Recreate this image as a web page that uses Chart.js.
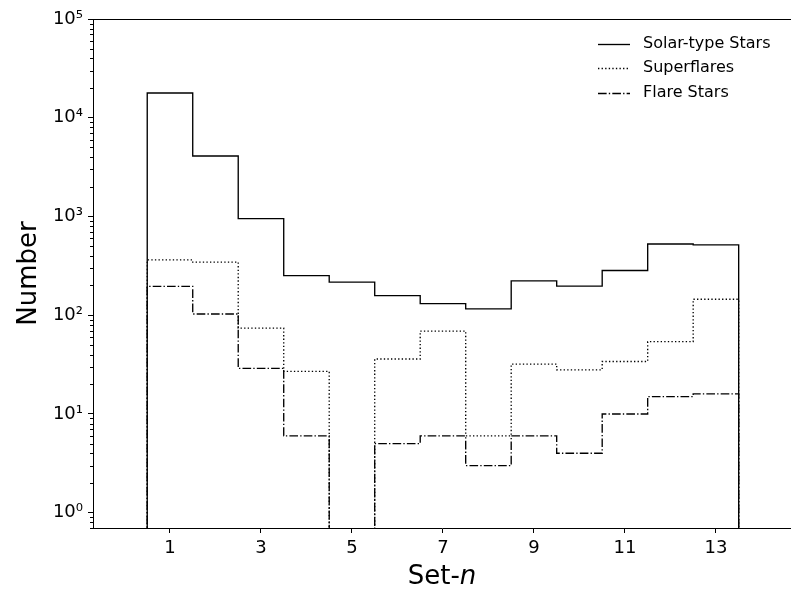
<!DOCTYPE html>
<html>
<head>
<meta charset="utf-8">
<script src="https://cdn.jsdelivr.net/npm/chart.js@4.4.1/dist/chart.umd.min.js"></script>
<style>
html,body{margin:0;padding:0;background:#fff;}
#wrap{width:791px;height:592px;position:relative;}
</style>
</head>
<body>
<div id="wrap"><canvas id="c"></canvas></div>
<script>
// ---- data ----
const categories = [1, 2, 3, 4, 5, 6, 7, 8, 9, 10, 11, 12, 13];
const solarStars = [17800, 4100, 950, 252, 216, 158, 131, 116, 223, 197, 284, 527, 515];
const superflares = [363, 345, 74, 27, 0, 36, 69, 6, 32, 28, 34, 54, 145];
const flareStars = [196, 103, 29, 6, 0, 5, 6, 3, 6, 4, 10, 15, 16];
const seriesNames = ['Solar-type Stars', 'Superflares', 'Flare Stars'];
const xTickValues = [1, 3, 5, 7, 9, 11, 13];
const yTickValues = [1, 10, 100, 1000, 10000, 100000];
const yTickLabels = ['10\u2070', '10\u00B9', '10\u00B2', '10\u00B3', '10\u2074', '10\u2075'];

const FLOOR = 0.01; // zero counts fall below the log axis
function stepPoints(vals) {
  const pts = [];
  const first = categories[0] - 0.5;
  pts.push({x: first, y: FLOOR});
  vals.forEach((v, i) => {
    const c = categories[i];
    const y = v > 0 ? v : FLOOR;
    pts.push({x: c - 0.5, y: y});
    pts.push({x: c + 0.5, y: y});
  });
  pts.push({x: categories[categories.length - 1] + 0.5, y: FLOOR});
  return pts;
}

const LW = 1.35;
const styles = [
  {dash: []},
  {dash: [1 * LW, 1.65 * LW]},
  {dash: [6.4 * LW, 1.6 * LW, 1 * LW, 1.6 * LW]}
];
const allSeries = [solarStars, superflares, flareStars];

Chart.defaults.font.family = "'DejaVu Sans', sans-serif";
Chart.defaults.color = '#000';

const framePlugin = {
  id: 'frame',
  afterDraw(chart) {
    const ctx = chart.ctx;
    const a = chart.chartArea;
    const ys = chart.scales.y;
    ctx.save();
    ctx.strokeStyle = '#000';
    ctx.lineWidth = 1;
    ctx.beginPath();
    ctx.moveTo(a.left, a.top + 0.5);
    ctx.lineTo(a.right, a.top + 0.5);
    ctx.stroke();
    for (let k = -1; k <= 5; k++) {
      for (let m = 2; m <= 9; m++) {
        const v = m * Math.pow(10, k);
        if (v < ys.min || v > ys.max) continue;
        const py = Math.round(ys.getPixelForValue(v)) + 0.5;
        ctx.beginPath();
        ctx.moveTo(a.left - 3, py);
        ctx.lineTo(a.left, py);
        ctx.stroke();
      }
    }
    ctx.fillStyle = '#000';
    ctx.textBaseline = 'middle';
    const f1 = "26px 'DejaVu Sans'";
    const f2 = "italic 26px 'DejaVu Sans'";
    ctx.font = f1;
    const w1 = ctx.measureText('Set-').width;
    ctx.font = f2;
    const w2 = ctx.measureText('n').width;
    const cx = (a.left + a.right) / 2;
    const sx = cx - (w1 + w2) / 2;
    ctx.textAlign = 'left';
    ctx.font = f1;
    ctx.fillText('Set-', sx, 577);
    ctx.font = f2;
    ctx.fillText('n', sx + w1, 577);
    ctx.save();
    ctx.translate(29, (a.top + a.bottom) / 2);
    ctx.rotate(-Math.PI / 2);
    ctx.textAlign = 'center';
    ctx.font = f1;
    ctx.fillText('Number', 0, 0);
    ctx.restore();
    ctx.font = "16px 'DejaVu Sans'";
    ctx.textAlign = 'left';
    const rows = [44, 68, 93];
    seriesNames.forEach((name, i) => {
      ctx.setLineDash(styles[i].dash);
      ctx.lineWidth = LW;
      ctx.beginPath();
      ctx.moveTo(598, rows[i] + 0.5);
      ctx.lineTo(630, rows[i] + 0.5);
      ctx.stroke();
      ctx.setLineDash([]);
      ctx.fillText(name, 643, rows[i]);
    });
    ctx.restore();
  }
};

new Chart(document.getElementById('c'), {
  type: 'line',
  data: {
    datasets: allSeries.map((s, i) => ({
      label: seriesNames[i],
      data: stepPoints(s),
      borderColor: '#000',
      borderWidth: LW,
      borderDash: styles[i].dash,
      pointRadius: 0,
      fill: false,
      tension: 0
    }))
  },
  options: {
    responsive: true,
    maintainAspectRatio: false,
    animation: false,
    layout: {padding: {top: 19, right: 0, left: 0, bottom: 0}},
    plugins: {legend: {display: false}, tooltip: {enabled: false}},
    scales: {
      x: {
        type: 'linear',
        min: -0.692,
        max: 14.65,
        afterBuildTicks(scale) { scale.ticks = xTickValues.map(v => ({value: v})); },
        afterFit(scale) { scale.height = 64; },
        ticks: {font: {size: 18}, padding: 5, maxRotation: 0, callback: v => String(v)},
        grid: {drawOnChartArea: false, drawTicks: true, tickLength: 5, color: '#000'},
        border: {display: true, color: '#000', width: 1}
      },
      y: {
        type: 'logarithmic',
        min: 0.74,
        max: 100000,
        afterBuildTicks(scale) { scale.ticks = yTickValues.map(v => ({value: v})); },
        afterFit(scale) { scale.width = 93; },
        ticks: {
          font: {size: 18}, padding: 5,
          callback: function(v) { const i = yTickValues.indexOf(v); return i >= 0 ? yTickLabels[i] : ''; }
        },
        grid: {drawOnChartArea: false, drawTicks: true, tickLength: 5, color: '#000'},
        border: {display: true, color: '#000', width: 1}
      }
    }
  },
  plugins: [framePlugin]
});
</script>
</body>
</html>
